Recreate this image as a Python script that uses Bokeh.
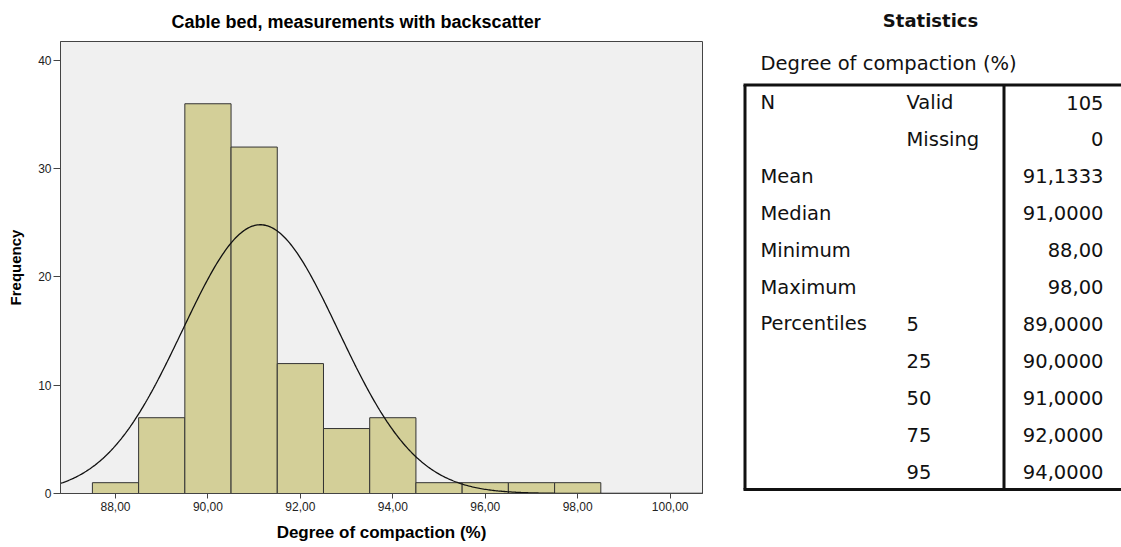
import numpy as np
from bokeh.plotting import figure
from bokeh.models import Range1d, FixedTicker, Title, ColumnDataSource
from bokeh.core.properties import value
from bokeh.layouts import row
from bokeh.embed import file_html
from bokeh.resources import INLINE

# ---------------- data ----------------
bins = [88, 89, 90, 91, 92, 93, 94, 95, 96, 97, 98]
freq = [1, 7, 36, 32, 12, 6, 7, 1, 1, 1, 1]
x_ticks = [88, 90, 92, 94, 96, 98, 100]
x_tick_labels = ["88,00", "90,00", "92,00", "94,00", "96,00", "98,00", "100,00"]
y_ticks = [0, 10, 20, 30, 40]

stat_col1 = ["N", "", "Mean", "Median", "Minimum", "Maximum", "Percentiles", "", "", "", ""]
stat_col2 = ["Valid", "Missing", "", "", "", "", "5", "25", "50", "75", "95"]
stat_col3 = ["105", "0", "91,1333", "91,0000", "88,00", "98,00",
             "89,0000", "90,0000", "91,0000", "92,0000", "94,0000"]

n_total = sum(freq)
mean = float(np.average(bins, weights=freq))
std = float(np.sqrt(np.sum(np.array(freq) * (np.array(bins) - mean) ** 2) / (n_total - 1)))

FONT = "Liberation Sans"
TFONT = "DejaVu Sans"
H = 547
B_TOP, B_BOT = 41, 54

# ---------------- histogram ----------------
HW = 720
p = figure(width=HW, height=H, output_backend="svg", toolbar_location=None,
           x_range=Range1d(86.81, 100.70), y_range=Range1d(0, 41.75),
           min_border_left=60, min_border_right=18, min_border_top=B_TOP, min_border_bottom=B_BOT)
p.background_fill_color = "#F0F0F0"
p.border_fill_color = "white"
p.outline_line_color = "#444444"
p.outline_line_width = 1
p.xgrid.visible = False
p.ygrid.visible = False

title = Title(text="Cable bed, measurements with backscatter", align="left", offset=111,
              text_font=FONT, text_font_size="18px", text_font_style="bold",
              text_color="black", standoff=19)
p.add_layout(title, "above")

src = ColumnDataSource(dict(left=[b - 0.5 for b in bins], right=[b + 0.5 for b in bins],
                            top=freq, bottom=[0] * len(bins)))
p.quad(left="left", right="right", top="top", bottom="bottom", source=src,
       fill_color="#D3CF98", line_color="#333333", line_width=1)

xs = np.linspace(86.81, 100.70, 500)
ys = n_total * 1.0 / (std * np.sqrt(2 * np.pi)) * np.exp(-0.5 * ((xs - mean) / std) ** 2)
p.line(xs, ys, line_color="#111111", line_width=1.3)

for ax in (p.xaxis[0], p.yaxis[0]):
    ax.axis_line_color = "#444444"
    ax.major_tick_line_color = "#444444"
    ax.major_tick_in = 0
    ax.minor_tick_line_color = None
    ax.major_label_text_font = FONT
    ax.major_label_text_font_size = "12px"
    ax.major_label_text_color = "#222222"
    ax.axis_label_text_font = FONT
    ax.axis_label_text_font_style = "bold"
    ax.axis_label_text_color = "black"

p.xaxis.ticker = FixedTicker(ticks=x_ticks)
p.xaxis.major_label_overrides = {t: l for t, l in zip(x_ticks, x_tick_labels)}
p.xaxis.axis_label = "Degree of compaction (%)"
p.xaxis.axis_label_text_font_size = "17px"
p.xaxis.major_tick_out = 5
p.xaxis.major_label_standoff = 3
p.xaxis.axis_label_standoff = 9

p.yaxis.ticker = FixedTicker(ticks=y_ticks)
p.yaxis.axis_label = "Frequency"
p.yaxis.axis_label_text_font_size = "15px"
p.yaxis.major_tick_out = 7
p.yaxis.major_label_standoff = 2
p.yaxis.axis_label_standoff = 11

# ---------------- statistics table ----------------
TX0, TX1 = HW, 1121
t = figure(width=TX1 - TX0, height=H, output_backend="svg", toolbar_location=None,
           x_range=Range1d(TX0, TX1), y_range=Range1d(H - B_BOT, B_TOP),
           x_axis_type=None, y_axis_type=None,
           min_border_left=0, min_border_right=0,
           min_border_top=B_TOP, min_border_bottom=B_BOT)
t.outline_line_color = None
t.xgrid.visible = False
t.ygrid.visible = False
t.background_fill_color = "white"
t.border_fill_color = "white"

t.text(x=[930], y=[20], text=["Statistics"], text_font=value(TFONT), text_font_size="18px",
       text_font_style="bold", text_align="center", text_baseline="middle",
       text_color="#111111", level="overlay")
t.text(x=[760], y=[63], text=["Degree of compaction (%)"], text_font=value(TFONT),
       text_font_size="19.5px", text_align="left", text_baseline="middle", text_color="#111111")

row_y0, row_dy = 102, 36.9
rows_y = [row_y0 + i * row_dy for i in range(len(stat_col1))]
common = dict(text_font=value(TFONT), text_font_size="19.5px", text_baseline="middle",
              text_color="#111111")
t.text(x=[760] * len(rows_y), y=rows_y, text=stat_col1, text_align="left", **common)
t.text(x=[906] * len(rows_y), y=rows_y, text=stat_col2, text_align="left", **common)
t.text(x=[1103] * len(rows_y), y=rows_y, text=stat_col3, text_align="right", **common)

# table frame
left_x, top_y, bot_y, div_x = 744.5, 84.5, 489, 1003.5
t.segment(x0=[left_x - 1.5, left_x - 1.5, left_x, div_x],
          y0=[top_y, bot_y, top_y, top_y],
          x1=[TX1, TX1, left_x, div_x],
          y1=[top_y, bot_y, bot_y, bot_y],
          line_color="#111111", line_width=3)

layout = row(p, t)
open("out.html", "w").write(file_html(layout, INLINE))
